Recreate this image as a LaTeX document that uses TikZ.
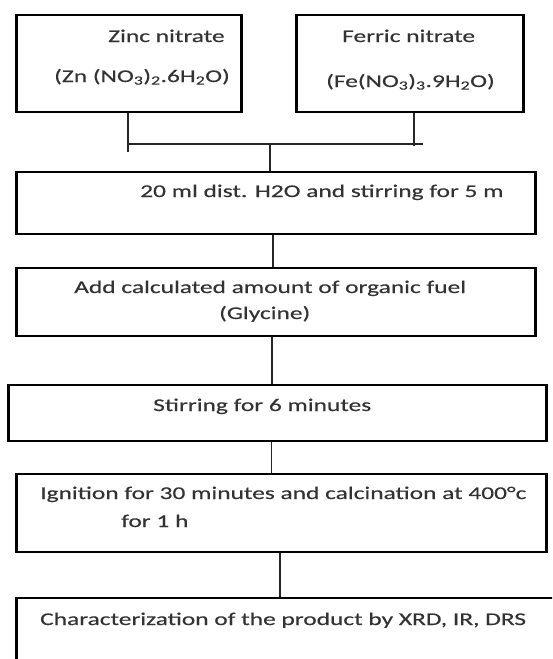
\documentclass[tikz,border=0pt]{standalone}
\usepackage{fontspec}
\setmainfont{Carlito}[FakeStretch=1.42, FakeBold=0.35]
\definecolor{txt}{HTML}{333333}
\begin{document}
\begin{tikzpicture}[x=1pt, y=-1pt,
  box/.style={draw=black, line width=2pt, inner sep=0pt, fill=none,
    path picture={\draw[line width=4.5pt]
      (path picture bounding box.north west) -- (path picture bounding box.south west)
      (path picture bounding box.north east) -- (path picture bounding box.south east);}},
  lbl/.style={anchor=base west, inner sep=0pt, text=txt,
    font=\fontsize{17.9pt}{20pt}\selectfont},
  conn/.style={draw=black!85, line width=1.4pt}]
\clip (0,0) rectangle (552,659);
\fill[white] (0,0) rectangle (552,659);
% boxes
\node[box, minimum width=226pt, minimum height=97pt] (zinc) at (129,63.5) {};
\node[box, minimum width=228pt, minimum height=97pt] (ferric) at (410,63.5) {};
\node[box, minimum width=520pt, minimum height=62pt] (water) at (276,203) {};
\node[box, minimum width=520pt, minimum height=68pt] (fuel) at (276,302) {};
\node[box, minimum width=539pt, minimum height=56pt] (stir) at (277.5,413) {};
\node[box, minimum width=531pt, minimum height=78pt] (ignite) at (281.5,513) {};
\node[box, minimum width=560pt, minimum height=90pt] (charac) at (296,643) {};
% texts
\node[lbl] (t1) at (108,42) {Zinc nitrate};
\node[lbl] (t2) at (54,82) {(Zn (NO\textsubscript{3})\textsubscript{2}.6H\textsubscript{2}O)};
\node[lbl] (t3) at (342,42) {Ferric nitrate};
\node[lbl] (t4) at (326,87) {(Fe(NO\textsubscript{3})\textsubscript{3}.9H\textsubscript{2}O)};
\node[lbl] (t5) at (140,197) {20 ml dist. H2O and stirring for 5 m};
\node[lbl] (t6) at (74,293) {Add calculated amount of organic fuel};
\node[lbl] (t7) at (219,319) {(Glycine)};
\node[lbl] (t8) at (153,411) {Stirring for 6 minutes};
\node[lbl] (t9) at (40,499) {Ignition for 30 minutes and calcination at 400°c};
\node[lbl] (t10) at (121,527) {for 1 h};
\node[lbl] (t11) at (40,625) {Characterization of the product by XRD, IR, DRS};
% connectors
\coordinate (zb) at (128,152);
\coordinate (hl) at (128,144);
\coordinate (hr) at (423,144);
\coordinate (fb) at (414,146);
\coordinate (hm) at (270,144);
\draw[conn] (zb |- zinc.south) -- (zb);
\draw[conn] (fb |- ferric.south) -- (fb);
\draw[conn] (hl) -- (hr);
\draw[conn] (hm) -- (hm |- water.north);
\draw[conn] ([xshift=-3pt]water.south) -- ([xshift=-3pt]fuel.north);
\draw[conn] ([xshift=-4pt]fuel.south) -- ([xshift=-4pt]fuel.south |- stir.north);
\draw[conn] ([xshift=-6pt]stir.south) -- ([xshift=-6pt]stir.south |- ignite.north);
\draw[conn] ([xshift=-1.5pt]ignite.south) -- ([xshift=-1.5pt]ignite.south |- charac.north);
\end{tikzpicture}
\end{document}
